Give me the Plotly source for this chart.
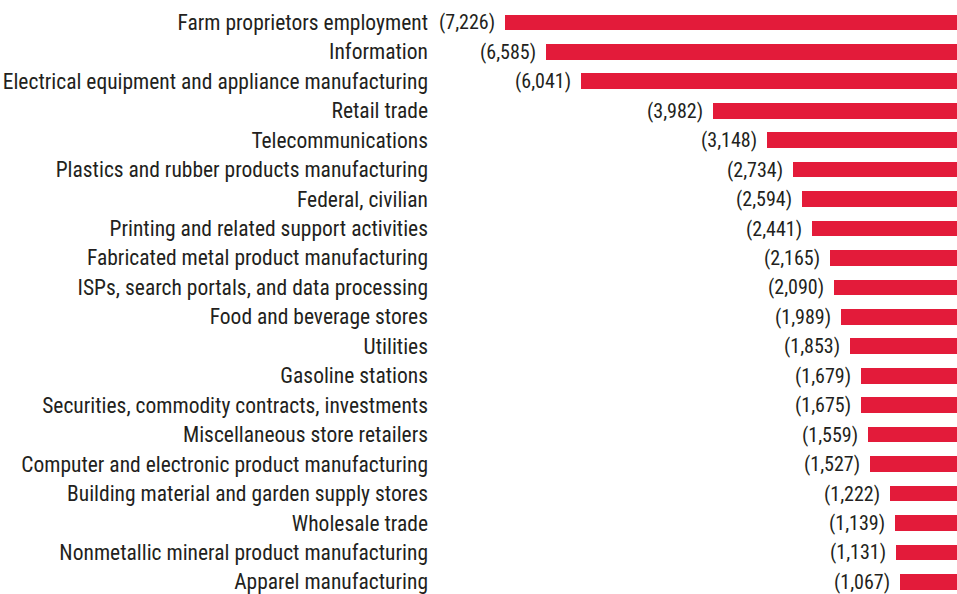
"""Employment change by industry, horizontal bar chart."""

import plotly.graph_objects as go

INDUSTRIES = [
    "Farm proprietors employment",
    "Information",
    "Electrical equipment and appliance manufacturing",
    "Retail trade",
    "Telecommunications",
    "Plastics and rubber products manufacturing",
    "Federal, civilian",
    "Printing and related support activities",
    "Fabricated metal product manufacturing",
    "ISPs, search portals, and data processing",
    "Food and beverage stores",
    "Utilities",
    "Gasoline stations",
    "Securities, commodity contracts, investments",
    "Miscellaneous store retailers",
    "Computer and electronic product manufacturing",
    "Building material and garden supply stores",
    "Wholesale trade",
    "Nonmetallic mineral product manufacturing",
    "Apparel manufacturing",
]

JOB_CHANGE = [
    -7226, -6585, -6041, -3982, -3148, -2734, -2594, -2441, -2165, -2090,
    -1989, -1853, -1679, -1675, -1559, -1527, -1222, -1139, -1131, -1067,
]

BAR_COLOR = "#e31b3a"
TEXT_COLOR = "#231f20"
FAMILY = "Liberation Sans Narrow, Roboto Condensed, DejaVu Sans Condensed, sans-serif"
LABEL_FONT = dict(family=FAMILY, color=TEXT_COLOR, size=21.5)
VALUE_FONT = dict(family=FAMILY, color=TEXT_COLOR, size=20)

fig = go.Figure()
fig.add_trace(go.Bar(
    x=JOB_CHANGE, y=INDUSTRIES, orientation="h",
    marker=dict(color=BAR_COLOR, line=dict(width=0)),
    width=0.53,
    hoverinfo="skip",
))

# value labels in parentheses, just left of each bar
for name, val in zip(INDUSTRIES, JOB_CHANGE):
    fig.add_annotation(
        x=val, y=name, xref="x", yref="y",
        text=f"({abs(val):,})", showarrow=False,
        xanchor="right", xshift=-8,
        font=VALUE_FONT,
    )

fig.update_layout(
    width=957, height=594,
    paper_bgcolor="white", plot_bgcolor="white",
    font=LABEL_FONT,
    margin=dict(l=432, r=0, t=0, b=0),
    showlegend=False,
    bargap=0,
    xaxis=dict(range=[-8364, -178], visible=False, fixedrange=True),
    yaxis=dict(
        range=[len(INDUSTRIES) - 1 + 0.31, -0.76],
        showgrid=False, zeroline=False, showline=False, ticks="",
        ticklabelstandoff=3,
        tickfont=LABEL_FONT, fixedrange=True,
    ),
)

# drop the default page margin so the figure sits at the window's corner
fig.write_html(
    "out.html",
    config={"displayModeBar": False},
    post_script="document.body.style.margin='0';document.body.style.overflow='hidden';",
)
